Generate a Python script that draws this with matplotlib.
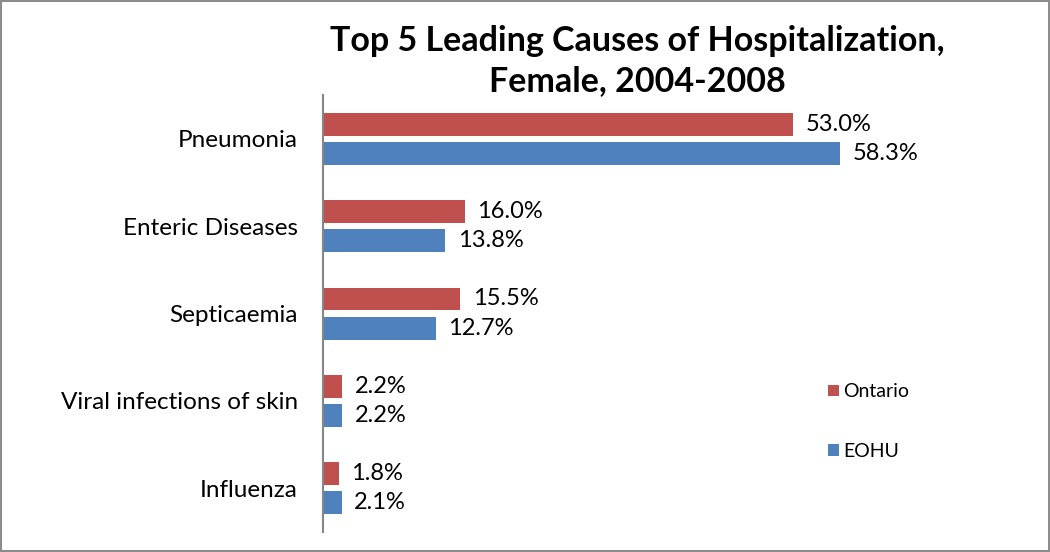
import matplotlib
matplotlib.use('Agg')
import matplotlib.pyplot as plt
import numpy as np

categories = ['Pneumonia', 'Enteric Diseases', 'Septicaemia', 'Viral infections of skin', 'Influenza']
ontario = [53.0, 16.0, 15.5, 2.2, 1.8]
eohu = [58.3, 13.8, 12.7, 2.2, 2.1]
series = ['Ontario', 'EOHU']
colors = ['#C0504D', '#4F81BD']
title = 'Top 5 Leading Causes of Hospitalization,\nFemale, 2004-2008'

plt.rcParams['font.family'] = ['Lato', 'DejaVu Sans']

fig = plt.figure(figsize=(10.5, 5.52), dpi=100)
fig.patch.set_edgecolor('#8c8c8c')
fig.patch.set_linewidth(1.5)
ax = fig.add_axes([0.3076, 0.0362, 0.5913, 0.7917])

y = np.arange(len(categories))
off, h = 0.166, 0.263
b1 = ax.barh(y - off, ontario, h, color=colors[0], label=series[0])
b2 = ax.barh(y + off, eohu, h, color=colors[1], label=series[1])
for bars, vals in ((b1, ontario), (b2, eohu)):
    for b, v in zip(bars, vals):
        ax.text(b.get_width() + 1.4, b.get_y() + b.get_height() / 2, f'{v:.1f}%',
                va='center', ha='left', fontsize=17)

ax.set_xlim(0, 70)
ax.set_ylim(len(categories) - 0.5, -0.5)
ax.set_yticks(y)
ax.set_yticklabels(categories, fontsize=17.5)
ax.tick_params(axis='y', length=0, pad=18)
ax.set_xticks([])
for s in ['top', 'right', 'bottom']:
    ax.spines[s].set_visible(False)
ax.spines['left'].set_color('#868686')
ax.spines['left'].set_linewidth(1.5)

fig.text(0.607, 0.889, title, ha='center', va='center', fontsize=24.5,
         fontweight='bold', linespacing=1.32)

ax.legend(loc='upper left', bbox_to_anchor=(0.785, 0.38), frameon=False,
          fontsize=14, handlelength=0.55, handleheight=0.55, handletextpad=0.25,
          labelspacing=2.2)

fig.savefig('out.png', dpi=100)
